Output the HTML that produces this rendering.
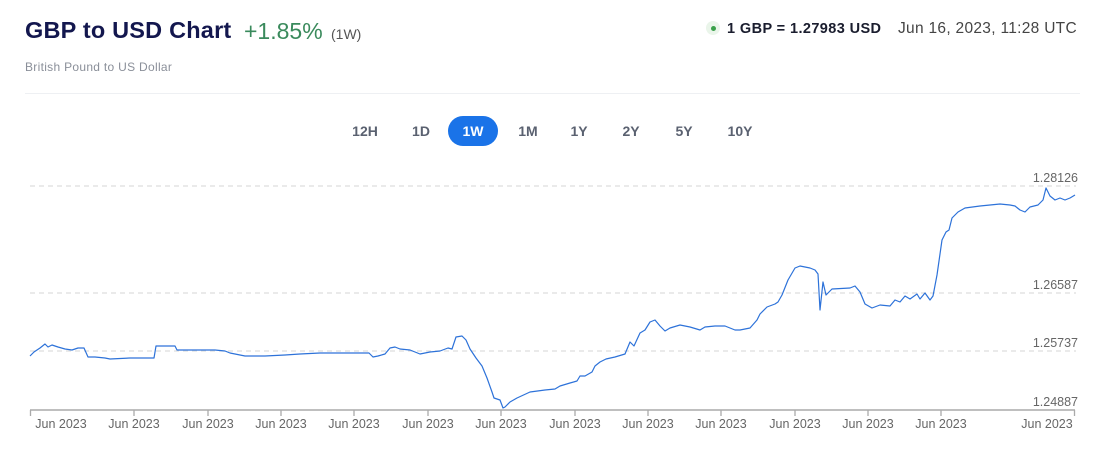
<!DOCTYPE html>
<html><head><meta charset="utf-8"><style>
body{margin:0;width:1118px;height:462px;background:#fff;font-family:"Liberation Sans",sans-serif;position:relative;overflow:hidden}
.a{position:absolute;white-space:nowrap}
.btn{position:absolute;top:116px;height:30px;line-height:30px;width:50px;text-align:center;font-size:14px;font-weight:bold;color:#5a6170;transform:translateX(-25px)}
.on{background:#1a73e8;color:#fff;border-radius:15px}
</style></head><body>
<div class="a" style="left:25px;top:17px;font-size:23.5px;font-weight:bold;color:#13174e;letter-spacing:0.2px">GBP to USD Chart</div>
<div class="a" style="left:244px;top:18px;font-size:23px;color:#3a8a5c">+1.85%</div>
<div class="a" style="left:331px;top:26px;font-size:14px;color:#555">(1W)</div>
<div class="a" style="left:25px;top:60px;font-size:12px;color:#8a8f99;letter-spacing:0.3px">British Pound to US Dollar</div>
<div class="a" style="left:706px;top:21px;width:14px;height:14px;border-radius:7px;background:#eaf5ea"></div>
<div class="a" style="left:711px;top:26px;width:5px;height:5px;border-radius:3px;background:#3aa04a"></div>
<div class="a" style="left:727px;top:21px;font-size:14.5px;font-weight:bold;color:#1a1d2e;letter-spacing:0.4px">1 GBP = 1.27983 USD</div>
<div class="a" style="left:898px;top:20px;font-size:15.5px;color:#444;letter-spacing:0.3px">Jun 16, 2023, 11:28 UTC</div>
<div class="a" style="left:25px;top:93px;width:1055px;height:1px;background:#eef0f3"></div>
<div class="btn" style="left:365px">12H</div>
<div class="btn" style="left:421px">1D</div>
<div class="btn on" style="left:473px">1W</div>
<div class="btn" style="left:528px">1M</div>
<div class="btn" style="left:579px">1Y</div>
<div class="btn" style="left:631px">2Y</div>
<div class="btn" style="left:684px">5Y</div>
<div class="btn" style="left:740px">10Y</div>
<svg class="a" style="left:0;top:0" width="1118" height="462">
<g stroke="#ddd" stroke-dasharray="5,4" stroke-width="1.3">
<line x1="30" y1="186" x2="1076" y2="186"/><line x1="30" y1="293" x2="1076" y2="293"/><line x1="30" y1="351" x2="1076" y2="351"/></g>
<g font-family="Liberation Sans" font-size="12.5" fill="#666" text-anchor="end">
<text x="1078" y="182">1.28126</text><text x="1078" y="289">1.26587</text><text x="1078" y="347">1.25737</text><text x="1078" y="406">1.24887</text></g>
<line x1="30" y1="410" x2="1075" y2="410" stroke="#aaa" stroke-width="1.5"/>
<g stroke="#aaa" stroke-width="1.3">
<line x1="30.5" y1="410" x2="30.5" y2="416"/><line x1="134" y1="410" x2="134" y2="416"/><line x1="208" y1="410" x2="208" y2="416"/><line x1="281" y1="410" x2="281" y2="416"/><line x1="354" y1="410" x2="354" y2="416"/><line x1="428" y1="410" x2="428" y2="416"/><line x1="501" y1="410" x2="501" y2="416"/><line x1="575" y1="410" x2="575" y2="416"/><line x1="648" y1="410" x2="648" y2="416"/><line x1="721" y1="410" x2="721" y2="416"/><line x1="795" y1="410" x2="795" y2="416"/><line x1="868" y1="410" x2="868" y2="416"/><line x1="941" y1="410" x2="941" y2="416"/><line x1="1074.5" y1="410" x2="1074.5" y2="416"/></g>
<g font-family="Liberation Sans" font-size="12.5" fill="#666" text-anchor="middle">
<text x="61" y="428">Jun 2023</text><text x="134" y="428">Jun 2023</text><text x="208" y="428">Jun 2023</text><text x="281" y="428">Jun 2023</text><text x="354" y="428">Jun 2023</text><text x="428" y="428">Jun 2023</text><text x="501" y="428">Jun 2023</text><text x="575" y="428">Jun 2023</text><text x="648" y="428">Jun 2023</text><text x="721" y="428">Jun 2023</text><text x="795" y="428">Jun 2023</text><text x="868" y="428">Jun 2023</text><text x="941" y="428">Jun 2023</text><text x="1047" y="428">Jun 2023</text></g>
<polyline fill="none" stroke="#2d72d9" stroke-width="1.2" stroke-linejoin="round" points="30,356 34,352 40,348 45,344 48,347 52,345 58,347 65,349 72,350 78,348 84,348 88,357 95,357 105,358 110,359 130,358 154,358 156,346 175,346 177,350 190,350 200,350 215,350 225,351 230,353 245,356 265,356 285,355 300,354 320,353 369,353 373,357 378,356 385,354 390,348 395,347 400,349 410,350 420,354 430,352 440,351 448,348 452,349 456,337 462,336 466,340 470,349 476,358 482,366 487,378 492,392 494,398 500,400 503,408 505,407 510,402 517,398 530,392 545,390 555,389 560,386 570,383 577,381 580,376 585,376 592,372 595,366 600,362 606,359 615,357 625,354 630,342 634,346 640,333 645,330 650,322 655,320 660,326 665,331 670,328 680,325 690,327 700,330 705,327 715,326 725,326 730,328 735,330 740,330 750,328 757,320 760,314 767,307 775,304 778,302 782,295 788,280 795,268 800,266 810,268 815,270 818,274 820,310 823,282 826,295 832,289 850,288 855,286 860,292 865,304 872,308 880,305 890,306 895,300 900,302 905,296 910,299 917,294 920,299 925,293 930,300 933,296 937,275 942,240 946,232 949,230 952,218 958,212 965,208 980,206 1000,204 1010,205 1015,206 1020,210 1025,212 1030,207 1038,205 1043,200 1046,188 1050,196 1055,200 1060,198 1065,200 1070,198 1075,195"/>
</svg>
</body></html>
